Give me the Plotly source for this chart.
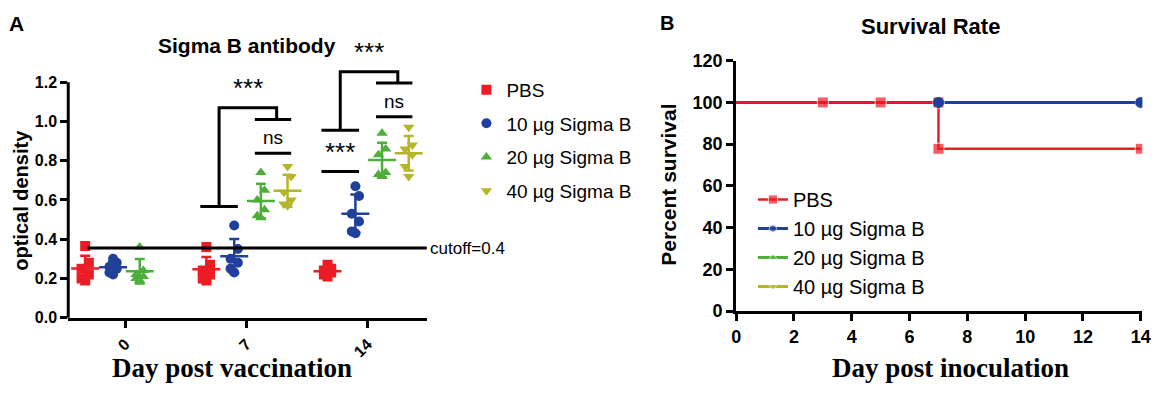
import numpy as np
import plotly.graph_objects as go

W, H = 1170, 398

# ---------------- data ----------------
groups = ["PBS", "10 µg Sigma B", "20 µg Sigma B", "40 µg Sigma B"]
colors = ["#EC1C24", "#21409A", "#4DAF3A", "#B5B52A"]
symbols = ["square", "circle", "triangle-up", "triangle-down"]

day_labels = ["0", "7", "14"]

od_pbs = [[0.365, 0.28, 0.25, 0.22, 0.20, 0.19],
          [0.36, 0.27, 0.24, 0.22, 0.20, 0.19],
          [0.27, 0.25, 0.24, 0.23, 0.22, 0.21]]
od_10 = [[0.30, 0.28, 0.26, 0.25, 0.23, 0.22],
         [0.47, 0.35, 0.30, 0.28, 0.25, 0.23],
         [0.67, 0.62, 0.53, 0.49, 0.44, 0.43]]
od_20 = [[0.36, 0.24, 0.22, 0.21, 0.20, 0.19],
         [0.74, 0.65, 0.60, 0.55, 0.52, 0.51],
         [0.94, 0.86, 0.83, 0.74, 0.73, 0.72]]
od_40 = [[],
         [0.77, 0.72, 0.64, 0.60, 0.58, 0.57],
         [0.97, 0.88, 0.86, 0.83, 0.77, 0.72]]
od_all = [od_pbs, od_10, od_20, od_40]

cutoff_text = "cutoff=0.4"
cutoff_level = 0.355

# significance brackets (Prism style)
sig_day = [1, 2]
sig_left_cap = [0.567, 0.955]
sig_right_cap = [1.01, 1.196]
sig_top = [1.07, 1.253]
sig_label = ["***", "***"]

pair_day = [1, 2, 2]
pair_groups = [(2, 3), (2, 3), (0, 1)]
pair_level = [0.838, 1.024, 0.745]
pair_label = ["ns", "ns", "***"]

surv_days_pbs = [0, 3, 5, 7, 7, 14]
surv_pbs = [100, 100, 100, 100, 77.8, 77.8]
surv_days_vac = [0, 7, 14]
surv_vac = [100, 100, 100]

# ---------------- style ----------------
offsets = [-0.33, -0.10, 0.12, 0.34]
spread = [0.0, 0.03, -0.03, 0.03, -0.03, 0.0]   # small scatter-dot spread (style)
SANS = "Arial, Liberation Sans, sans-serif"
SERIF = "Times New Roman, Liberation Serif, serif"
LEFT_YMAX = 1.36

def px(x):
    return x / W

def py(y):
    return 1 - y / H

fig = go.Figure()

# ---------- left panel: scatter + mean/SD ----------
for g in range(4):
    xs, ys = [], []
    for d, vals in enumerate(od_all[g]):
        xs += [d + offsets[g] + spread[k % len(spread)] for k in range(len(vals))]
        ys += vals
    fig.add_trace(go.Scatter(
        x=xs, y=ys, mode="markers", name=groups[g], legend="legend",
        legendgroup="L" + str(g), xaxis="x", yaxis="y",
        marker=dict(symbol=symbols[g], size=10, color=colors[g]),
    ))
for g in range(4):
    mx, my, sd = [], [], []
    for d, vals in enumerate(od_all[g]):
        if len(vals) == 0:
            continue
        mx.append(d + offsets[g])
        my.append(float(np.mean(vals)))
        sd.append(float(np.std(vals, ddof=1)))
    fig.add_trace(go.Scatter(
        x=mx, y=my, mode="markers", showlegend=False, legendgroup="L" + str(g),
        xaxis="x", yaxis="y",
        marker=dict(symbol="line-ew", size=20, line=dict(color=colors[g], width=2.5)),
        error_y=dict(type="data", array=sd, visible=True, color=colors[g],
                     thickness=2.5, width=5),
    ))

# cutoff line
fig.add_trace(go.Scatter(
    x=[-0.31, 2.49], y=[cutoff_level, cutoff_level], mode="lines",
    line=dict(color="black", width=3), showlegend=False, xaxis="x", yaxis="y"))

def span(day, a, b):
    return day + offsets[a] - 0.05, day + offsets[b] + 0.03

bx, by = [], []
for i, d in enumerate(sig_day):
    l0, l1 = span(d, 0, 1)
    r0, r1 = span(d, 2, 3)
    lc, rc = (l0 + l1) / 2, (r0 + r1) / 2 + 0.03
    bx += [l0, l1, None, lc, lc, rc, rc, None, r0, r1, None]
    by += [sig_left_cap[i], sig_left_cap[i], None, sig_left_cap[i], sig_top[i],
           sig_top[i], sig_right_cap[i], None, sig_right_cap[i], sig_right_cap[i], None]
for i, d in enumerate(pair_day):
    a, b = pair_groups[i]
    s0, s1 = span(d, a, b)
    bx += [s0, s1, None]
    by += [pair_level[i], pair_level[i], None]
fig.add_trace(go.Scatter(x=bx, y=by, mode="lines", line=dict(color="black", width=3),
                         showlegend=False, xaxis="x", yaxis="y"))

annotations = []
for i, d in enumerate(sig_day):
    l0, l1 = span(d, 0, 1)
    r0, r1 = span(d, 2, 3)
    xc = ((l0 + l1) / 2 + (r0 + r1) / 2 + 0.03) / 2
    annotations.append(dict(x=xc, y=sig_top[i] + 0.015, xref="x", yref="y", text=sig_label[i],
                            showarrow=False, xanchor="center", yanchor="bottom",
                            font=dict(family=SANS, size=26, color="black")))
for i, d in enumerate(pair_day):
    a, b = pair_groups[i]
    s0, s1 = span(d, a, b)
    fs = 26 if pair_label[i] == "***" else 19
    annotations.append(dict(x=(s0 + s1) / 2, y=pair_level[i] + 0.015, xref="x", yref="y",
                            text=pair_label[i], showarrow=False, xanchor="center",
                            yanchor="bottom", font=dict(family=SANS, size=fs, color="black")))
annotations.append(dict(x=2.49, y=cutoff_level, xref="x", yref="y", text=cutoff_text,
                        showarrow=False, xanchor="left", yanchor="middle", xshift=1,
                        font=dict(family=SANS, size=17, color="black")))

# ---------- right panel: survival ----------
for g in [3, 2, 1]:
    fig.add_trace(go.Scatter(
        x=surv_days_vac, y=surv_vac, mode="lines+markers", name=groups[g],
        legend="legend2", legendrank=g + 1, line=dict(color=colors[g], width=3, shape="hv"),
        marker=dict(symbol=symbols[g], size=[0, 11, 11], color=colors[g]),
        xaxis="x2", yaxis="y2"))
fig.add_trace(go.Scatter(
    x=surv_days_pbs, y=surv_pbs, mode="lines+markers", name=groups[0],
    legend="legend2", legendrank=1, line=dict(color=colors[0], width=2.5, shape="hv"),
    marker=dict(symbol="square", size=[0, 11, 11, 11, 11, 11], color=colors[0]),
    xaxis="x2", yaxis="y2"))
fig.add_trace(go.Scatter(
    x=surv_days_vac[1:], y=surv_vac[1:], mode="markers", showlegend=False,
    marker=dict(symbol="circle", size=11, color=colors[1]), xaxis="x2", yaxis="y2"))

# ---------- text ----------
def ptext(x, y, text, size, family=SANS, angle=0):
    return dict(x=px(x), y=py(y), xref="paper", yref="paper", showarrow=False,
                xanchor="center", yanchor="middle", text=text, textangle=angle,
                font=dict(family=family, size=size, color="black"))

annotations += [
    ptext(12, 14, "<b>A</b>", 21),
    ptext(670, 14, "<b>B</b>", 20),
    ptext(245, 37, "<b>Sigma B antibody</b>", 21),
    ptext(937, 17, "<b>Survival Rate</b>", 22),
    ptext(16, 200, "<b>optical density</b>", 20, angle=-90),
    ptext(672, 184, "<b>Percent survival</b>", 21, angle=-90),
    ptext(230, 377, "<b>Day post vaccination</b>", 27, family=SERIF),
    ptext(957, 377, "<b>Day post inoculation</b>", 27, family=SERIF),
]

axis_common = dict(showgrid=False, zeroline=False, showline=True, linecolor="black",
                   linewidth=3, ticks="outside", ticklen=7, tickwidth=2.5, tickcolor="black")

fig.update_layout(
    width=W, height=H, margin=dict(l=0, r=0, t=0, b=0),
    plot_bgcolor="white", paper_bgcolor="white",
    xaxis=dict(domain=[px(64), px(427)], range=[-0.47, 2.49], tickvals=[0, 1, 2],
               ticktext=day_labels, tickangle=-45, anchor="y", ticklabelstandoff=1,
               tickfont=dict(family=SANS, size=16, color="black", weight="bold"), **axis_common),
    yaxis=dict(domain=[py(324), py(43)], range=[0, LEFT_YMAX], tickvals=[0, 0.2, 0.4, 0.6, 0.8, 1.0, 1.2],
               tickformat=".1f", anchor="x",
               tickfont=dict(family=SANS, size=16, color="black", weight="bold"),
               **{**axis_common, "showline": False}),
    xaxis2=dict(domain=[px(740), px(1151)], range=[0, 14.05], dtick=2, anchor="y2",
                tickfont=dict(family=SANS, size=18, color="black", weight="bold"), **axis_common),
    yaxis2=dict(domain=[py(317), py(53.4)], range=[0, 120], dtick=20, anchor="x2",
                tickfont=dict(family=SANS, size=18, color="black", weight="bold"), **axis_common),
    legend=dict(x=px(467), y=py(64), xanchor="left", yanchor="top", tracegroupgap=6,
                font=dict(family=SANS, size=19, color="black"), bgcolor="rgba(0,0,0,0)"),
    legend2=dict(x=px(757), y=py(179), xanchor="left", yanchor="top",
                 font=dict(family=SANS, size=20, color="black"), bgcolor="rgba(0,0,0,0)"),
    annotations=annotations,
    shapes=[dict(type="line", xref="x domain", yref="y domain", x0=0, x1=0,
                 y0=0, y1=1.2 / LEFT_YMAX, line=dict(color="black", width=3))],
)

fig.write_html("out.html", config={"displayModeBar": False},
               post_script="document.body.style.margin='0px';document.body.style.overflow='hidden';")
